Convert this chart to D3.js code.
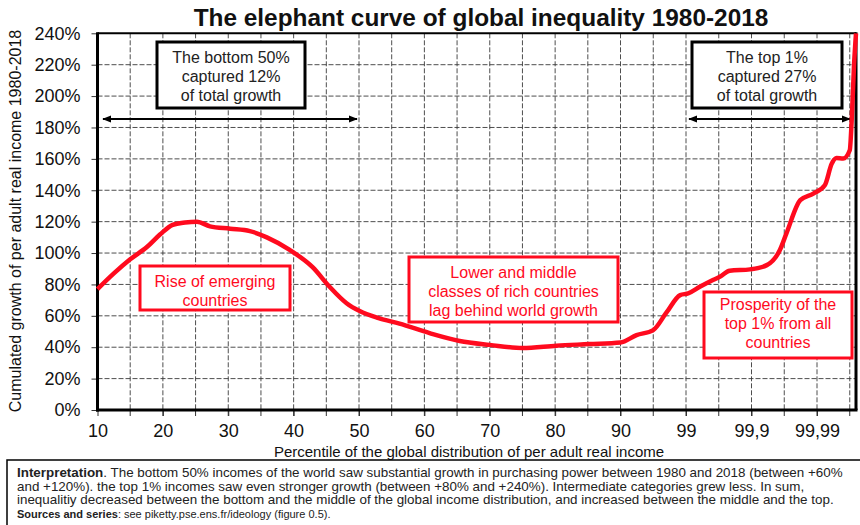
<!DOCTYPE html>
<html>
<head>
<meta charset="utf-8">
<script src="https://cdn.jsdelivr.net/npm/d3@7"></script>
<style>
  body { margin: 0; background: #fff; }
  svg { display: block; font-family: "Liberation Sans", Arial, sans-serif; }
</style>
</head>
<body>
<script>
/* Data */
var percentiles = [10, 12.5, 15, 17.6, 19.6, 21.5, 23.4, 25.2, 27.2, 30.3, 33.3, 35.9, 39.4, 42.9, 45.5,
  48.1, 50.1, 53, 56.2, 60.8, 65.4, 70, 75, 80.2, 85.2, 90, 92.2, 94.5, 96.3, 98.2,
  99.03, 99.19, 99.37, 99.47, 99.6, 99.88, 99.921, 99.939, 99.948, 99.967, 99.985,
  99.992, 99.9938, 99.995, 99.9967, 99.9984, 99.9989, 99.9995, 100];
var growth = [77, 87, 96, 104, 112, 118, 119.5, 120, 117, 115.5, 114, 110, 102, 91, 78.5,
  68, 63, 58.5, 55, 49, 44, 41.5, 39.5, 41, 42, 43, 47.7, 50.9, 62, 73.2,
  74.3, 78.5, 82.8, 85, 88.7, 89.6, 92.3, 101.9, 112.5, 133.7, 137.9,
  143.2, 157, 160.5, 160.2, 165.5, 184.6, 220, 240];
var xBreaks = [10, 90, 99, 99.9, 99.99, 100];
var xTicks = [10, 20, 30, 40, 50, 60, 70, 80, 90, 99, 99.9, 99.99];
var xTickLabels = ["10", "20", "30", "40", "50", "60", "70", "80", "90", "99", "99,9", "99,99"];
var yTicks = [0, 20, 40, 60, 80, 100, 120, 140, 160, 180, 200, 220, 240];

var titleText = "The elephant curve of global inequality 1980-2018";
var xTitle = "Percentile of the global distribution of per adult real income";
var yTitle = "Cumulated growth of per adult real income 1980-2018";
var blackNotes = [
  ["The bottom 50%", "captured 12%", "of total growth"],
  ["The top 1%", "captured 27%", "of total growth"]
];
var redNotes = [
  ["Rise of emerging", "countries"],
  ["Lower and middle", "classes of rich countries", "lag behind world growth"],
  ["Prosperity of the", "top 1% from all", "countries"]
];
var footLines = [
  [["Interpretation", true], [". The bottom 50% incomes of the world saw substantial growth in purchasing power between 1980 and 2018 (between +60%", false]],
  [["and +120%). the top 1% incomes saw even stronger growth (between +80% and +240%). Intermediate categories grew less. In sum,", false]],
  [["inequalitiy decreased between the bottom and the middle of the global income distribution, and increased between the middle and the top.", false]],
  [["Sources and series", true], [": see piketty.pse.ens.fr/ideology (figure 0.5).", false]]
];

/* Display setup */
var width = 860, height = 525,
  plot = {left: 97.5, right: 856, top: 33.3, bottom: 410},
  red = "#ff0a1e",
  svg = d3.select("body").append("svg").attr("width", width).attr("height", height);

// piecewise scale: 10..90 linear, then one step per extra "9"
var x = d3.scaleLinear()
  .domain(xBreaks)
  .range([plot.left, 620.5, 686, 751.5, 817, plot.right]);
var y = d3.scaleLinear().domain([0, 240]).range([plot.bottom, plot.top]);

/* Grid */
var tickPx = xTicks.map(x);
var gridPx = [];
tickPx.forEach(function(p, i) {
  gridPx.push(p);
  var next = i < tickPx.length - 1 ? tickPx[i + 1] : p + (p - tickPx[i - 1]);
  gridPx.push((p + next) / 2);
});
gridPx = gridPx.filter(function(p) { return p > plot.left && p < plot.right - 2; });

var grid = svg.append("g").attr("stroke", "#3a3a3a").attr("stroke-width", 0.9).attr("stroke-dasharray", "5,2");
grid.selectAll("line.v").data(gridPx).enter().append("line")
  .attr("class", "v")
  .attr("x1", function(d) { return d; }).attr("x2", function(d) { return d; })
  .attr("y1", plot.top).attr("y2", plot.bottom);
grid.selectAll("line.h").data(yTicks.slice(1, -1)).enter().append("line")
  .attr("class", "h")
  .attr("x1", plot.left).attr("x2", plot.right)
  .attr("y1", function(d) { return y(d); }).attr("y2", function(d) { return y(d); });

// minor ticks below the axis
svg.append("g").selectAll("line").data(gridPx).enter().append("line")
  .attr("x1", function(d) { return d; }).attr("x2", function(d) { return d; })
  .attr("y1", plot.bottom).attr("y2", plot.bottom + 6)
  .attr("stroke", "#333");

/* Axes */
var yAxis = svg.append("g")
  .attr("transform", "translate(" + plot.left + ",0)")
  .call(d3.axisLeft(y).tickValues(yTicks).tickSize(6).tickSizeOuter(0).tickPadding(11)
    .tickFormat(function(d) { return d + "%"; }));
var xAxis = svg.append("g")
  .attr("transform", "translate(0," + plot.bottom + ")")
  .call(d3.axisBottom(x).tickValues(xTicks).tickSize(6).tickSizeOuter(0).tickPadding(8)
    .tickFormat(function(d, i) { return xTickLabels[i]; }));
[yAxis, xAxis].forEach(function(a) {
  a.select(".domain").remove();
  a.selectAll("text").attr("font-size", 18).attr("fill", "#111").attr("font-family", null);
  a.selectAll("line").attr("stroke", "#333");
});

// frame
var frame = svg.append("g").attr("stroke", "#000").attr("fill", "none");
frame.append("line").attr("x1", plot.left).attr("x2", plot.right).attr("y1", plot.top).attr("y2", plot.top).attr("stroke-width", 2);
frame.append("line").attr("x1", plot.right).attr("x2", plot.right).attr("y1", plot.top - 1).attr("y2", plot.bottom).attr("stroke-width", 3);
frame.append("line").attr("x1", plot.left).attr("x2", plot.left).attr("y1", plot.top - 1).attr("y2", plot.bottom + 1.5).attr("stroke-width", 3);
frame.append("line").attr("x1", plot.left - 1.5).attr("x2", plot.right + 1.5).attr("y1", plot.bottom).attr("y2", plot.bottom).attr("stroke-width", 3);

/* Annotations */
svg.append("defs").append("marker")
  .attr("id", "head")
  .attr("viewBox", "0 0 10 10").attr("refX", 9).attr("refY", 5)
  .attr("markerWidth", 4.5).attr("markerHeight", 4.5)
  .attr("orient", "auto-start-reverse")
  .append("path").attr("d", "M0,1L10,5L0,9Z").attr("fill", "#000");

var blackBoxes = [{x0: 157, x1: 305, y0: 42, y1: 108, ax0: 103, ax1: 357}, {x0: 692, x1: 842, y0: 42, y1: 108, ax0: 689, ax1: 850}];
blackNotes.forEach(function(lines, i) {
  var b = blackBoxes[i];
  svg.append("rect").attr("x", b.x0).attr("y", b.y0).attr("width", b.x1 - b.x0).attr("height", b.y1 - b.y0)
    .attr("fill", "#fff").attr("stroke", "#000").attr("stroke-width", 3);
  svg.append("text").attr("text-anchor", "middle").attr("font-size", 16).attr("fill", "#222")
    .selectAll("tspan").data(lines).enter().append("tspan")
    .attr("x", (b.x0 + b.x1) / 2)
    .attr("y", function(d, k) { return 63 + k * 19; })
    .text(function(d) { return d; });
  svg.append("line").attr("x1", b.ax0).attr("x2", b.ax1).attr("y1", 119).attr("y2", 119)
    .attr("stroke", "#000").attr("stroke-width", 2)
    .attr("marker-start", "url(#head)").attr("marker-end", "url(#head)");
});

var redBoxes = [
  {x0: 140, x1: 290, y0: 266, y1: 310, base: 287},
  {x0: 409, x1: 618, y0: 257, y1: 322, base: 278},
  {x0: 704, x1: 852, y0: 292, y1: 358, base: 310}
];

/* Curve */
var line = d3.line()
  .x(function(d, i) { return x(percentiles[i]); })
  .y(function(d) { return y(d); })
  .curve(d3.curveMonotoneX);
svg.append("path")
  .attr("d", line(growth))
  .attr("fill", "none").attr("stroke", red).attr("stroke-width", 4.5)
  .attr("stroke-linejoin", "round");

redNotes.forEach(function(lines, i) {
  var b = redBoxes[i];
  svg.append("rect").attr("x", b.x0).attr("y", b.y0).attr("width", b.x1 - b.x0).attr("height", b.y1 - b.y0)
    .attr("fill", "#fff").attr("stroke", red).attr("stroke-width", 3);
  svg.append("text").attr("text-anchor", "middle").attr("font-size", 16).attr("fill", red)
    .selectAll("tspan").data(lines).enter().append("tspan")
    .attr("x", (b.x0 + b.x1) / 2)
    .attr("y", function(d, k) { return b.base + k * 19; })
    .text(function(d) { return d; });
});

/* Titles */
svg.append("text").attr("x", 481).attr("y", 26).attr("text-anchor", "middle")
  .attr("font-size", 24.4).attr("font-weight", "bold").attr("fill", "#111").text(titleText);
svg.append("text").attr("x", 469).attr("y", 457).attr("text-anchor", "middle")
  .attr("font-size", 15).attr("fill", "#111").text(xTitle);
svg.append("text").attr("transform", "translate(21,221) rotate(-90)").attr("text-anchor", "middle")
  .attr("font-size", 16).attr("fill", "#111").text(yTitle);

/* Footer note */
svg.append("rect").attr("x", 7).attr("y", 460).attr("width", 870).attr("height", 80)
  .attr("fill", "none").attr("stroke", "#000").attr("stroke-width", 1.5);
footLines.forEach(function(parts, i) {
  var t = svg.append("text").attr("x", 17).attr("y", 477 + i * 13.7)
    .attr("font-size", i == 3 ? 11 : 13.4).attr("fill", "#222");
  parts.forEach(function(p) {
    t.append("tspan").attr("font-weight", p[1] ? "bold" : null).text(p[0]);
  });
});
</script>
</body>
</html>
